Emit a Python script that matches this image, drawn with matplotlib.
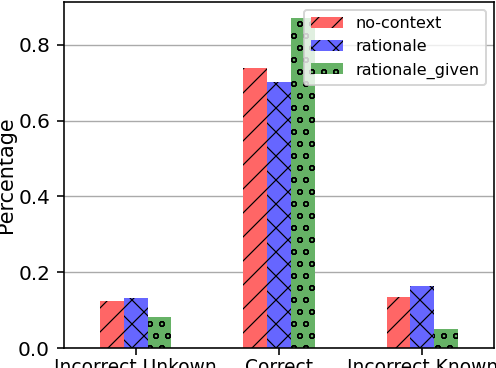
import numpy as np
import matplotlib
matplotlib.use("Agg")
from matplotlib import pyplot as plt

categories = ["Incorrect Unkown", "Correct", "Incorrect Known"]
series = ["no-context", "rationale", "rationale_given"]
no_context = [0.124, 0.740, 0.135]
rationale = [0.131, 0.703, 0.165]
rationale_given = [0.082, 0.870, 0.050]

colors = ["#ff6666", "#6666ff", "#66b266"]
hatches = ["//", "xx", "oo"]

# render at 144 dpi so the hatch spacing matches the reference
dpi = 144
plt.rcParams["hatch.linewidth"] = 0.6
fig = plt.figure(figsize=(496/dpi, 368/dpi), dpi=dpi)
ax = fig.add_axes([64/496, 20/368, 430/496, 346/368])

x = np.arange(len(categories))
w = 1/6.
for i, vals in enumerate([no_context, rationale, rationale_given]):
    ax.bar(x + (i-1)*w, vals, w, color=colors[i], hatch=hatches[i],
           edgecolor="black", lw=0, label=series[i], zorder=2)

ax.yaxis.grid(True, color="#aaaaaa", lw=0.7, zorder=0)
ax.set_axisbelow(True)
ax.set_xlim(-0.5, 2.5)
ax.set_ylim(0, 0.9135)
ax.set_xticks(x)
ax.set_xticklabels(categories, fontsize=9.3)
ax.tick_params(axis="x", pad=1.5)
ax.set_yticks([0, 0.2, 0.4, 0.6, 0.8])
ax.tick_params(axis="y", labelsize=10)
ax.set_ylabel("Percentage", fontsize=10.4, labelpad=1)
ax.legend(loc="upper right", fontsize=8.0)

fig.savefig("out.png", dpi=dpi)
